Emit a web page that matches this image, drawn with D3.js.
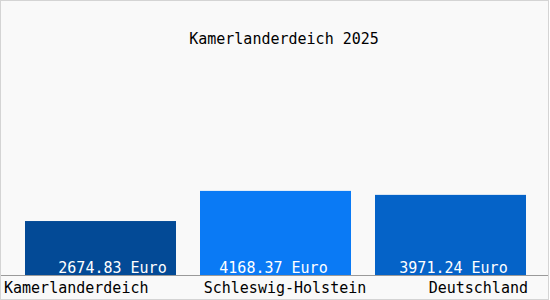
<!DOCTYPE html>
<html>
<head>
<meta charset="utf-8">
<title>Kamerlanderdeich 2025</title>
<script src="https://d3js.org/d3.v7.min.js"></script>
<style>
  body { margin: 0; background: #fff; }
  text { font-family: "DejaVu Sans Mono", monospace; font-size: 15px; }
</style>
</head>
<body>
<div id="chart"></div>
<script>
// ---- data ----
const regions = ["Kamerlanderdeich", "Schleswig-Holstein", "Deutschland"];
const values = [2674.83, 4168.37, 3971.24];
const barColors = ["#034a96", "#0a7af5", "#0563c8"];
const chartTitle = "Kamerlanderdeich 2025";
const unit = "Euro";

// ---- layout ----
const width = 550, height = 300;
const baseline = 275;

const svg = d3.select("#chart").append("svg")
    .attr("width", width)
    .attr("height", height);

svg.append("rect")
    .attr("x", 0.5).attr("y", 0.5)
    .attr("width", width - 2).attr("height", height - 1)
    .attr("fill", "#f9f9f9")
    .attr("stroke", "#d4d4d4");

const x = d3.scaleBand()
    .domain(regions)
    .range([25, 526])
    .paddingInner(24 / 175)
    .paddingOuter(0);

const y = d3.scaleLinear()
    .domain([0, 11400])
    .range([baseline, 45]);

// title
svg.append("text")
    .attr("x", 284)
    .attr("y", 44)
    .attr("text-anchor", "middle")
    .attr("fill", "#000")
    .text(chartTitle);

// bars
svg.selectAll("rect.bar")
    .data(regions)
    .enter().append("rect")
    .attr("class", "bar")
    .attr("x", d => x(d))
    .attr("width", x.bandwidth())
    .attr("y", (d, i) => y(values[i]))
    .attr("height", (d, i) => baseline - y(values[i]))
    .attr("fill", (d, i) => barColors[i]);

// value labels inside bars
const valueShift = [12, -2, 3];
svg.selectAll("text.val")
    .data(regions)
    .enter().append("text")
    .attr("class", "val")
    .attr("x", (d, i) => x(d) + x.bandwidth() / 2 + valueShift[i])
    .attr("y", baseline - 2)
    .attr("text-anchor", "middle")
    .attr("fill", "#fff")
    .text((d, i) => values[i].toFixed(2) + " " + unit);

// axis line
svg.append("line")
    .attr("x1", 1).attr("x2", width - 2)
    .attr("y1", baseline + 0.5).attr("y2", baseline + 0.5)
    .attr("stroke", "#9a9a9a");

// category labels
svg.selectAll("text.cat")
    .data(regions)
    .enter().append("text")
    .attr("class", "cat")
    .attr("y", 293)
    .attr("fill", "#000")
    .attr("text-anchor", (d, i) => i === 0 ? "start" : (i === regions.length - 1 ? "end" : "middle"))
    .attr("x", (d, i) => i === 0 ? 4
        : (i === regions.length - 1 ? x(d) + x.bandwidth() + 2 : x(d) + x.bandwidth() / 2 + 9.5))
    .text(d => d);
</script>
</body>
</html>
